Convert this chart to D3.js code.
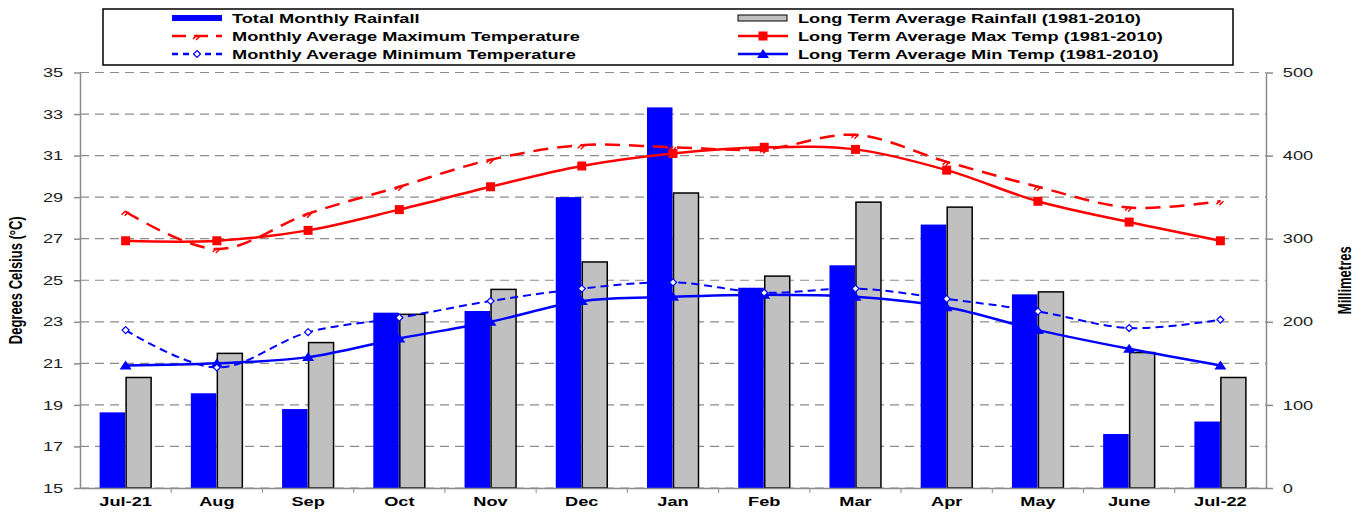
<!DOCTYPE html>
<html>
<head>
<meta charset="utf-8">
<script src="https://cdn.jsdelivr.net/npm/d3@7"></script>
<style>
  body { margin: 0; background: #fff; }
  text { font-family: "Liberation Sans", Arial, sans-serif; }
  .axTitle { font-family: "Liberation Sans Narrow", "Arial Narrow", "Liberation Sans", sans-serif; font-weight: bold; font-size: 13px; }
</style>
</head>
<body>
<script>
// months along the x axis
var months = ["Jul-21", "Aug", "Sep", "Oct", "Nov", "Dec", "Jan", "Feb", "Mar", "Apr", "May", "June", "Jul-22"]

// rainfall in mm (right axis)
var totalRain = [91, 114, 95, 211, 213, 350, 458, 241, 268, 317, 233, 65, 80]
var ltaRain = [133, 162, 175, 209, 239, 272, 355, 255, 344, 338, 236, 163, 133]

// temperatures in degrees C (left axis)
var maxTemp = [28.3, 26.5, 28.2, 29.5, 30.8, 31.5, 31.4, 31.3, 32.0, 30.7, 29.5, 28.5, 28.8]
var ltaMax = [26.9, 26.9, 27.4, 28.4, 29.5, 30.5, 31.1, 31.4, 31.3, 30.3, 28.8, 27.8, 26.9]
var minTemp = [22.6, 20.8, 22.5, 23.2, 24.0, 24.6, 24.9, 24.4, 24.6, 24.1, 23.5, 22.7, 23.1]
var ltaMin = [20.9, 21.0, 21.3, 22.2, 23.0, 24.0, 24.2, 24.3, 24.2, 23.7, 22.6, 21.7, 20.9]

var tempTicks = d3.range(15, 36, 2)
var rainTicks = [0, 100, 200, 300, 400, 500]

var width = 1364, height = 512
var plot = {left: 80, right: 1266, top: 72.5, bottom: 488}
// the original text is drawn wide, stretch it sideways
var stretch = 1.4

var svg = d3.select("body").append("svg")
    .attr("width", width)
    .attr("height", height)

// scales
var xScale = d3.scaleBand().domain(months).range([plot.left, plot.right])
var yTemp = d3.scaleLinear().domain([15, 35]).range([plot.bottom, plot.top])
var yRain = d3.scaleLinear().domain([0, 500]).range([plot.bottom, plot.top])

var groupW = xScale.bandwidth() * 0.57
var xSub = d3.scaleBand().domain(["total", "lta"]).range([0, groupW])
function cx(m) { return xScale(m) + xScale.bandwidth() / 2 }

// dashed grid
svg.append("g")
  .selectAll("line")
  .data(tempTicks)
  .enter().append("line")
    .attr("x1", plot.left).attr("x2", plot.right)
    .attr("y1", function(d) { return yTemp(d) }).attr("y2", function(d) { return yTemp(d) })
    .style("stroke", "#8c8c8c")
    .style("stroke-width", 1.2)
    .style("stroke-dasharray", "9,6")

// bars
var gx = (xScale.bandwidth() - groupW) / 2 - 0.5
svg.append("g").selectAll("rect")
  .data(months)
  .enter().append("rect")
    .attr("x", function(d) { return xScale(d) + gx + xSub("total") + 0.5 })
    .attr("y", function(d, i) { return yRain(totalRain[i]) })
    .attr("width", xSub.bandwidth() - 0.5)
    .attr("height", function(d, i) { return plot.bottom - yRain(totalRain[i]) })
    .style("fill", "#0000ff")

svg.append("g").selectAll("rect")
  .data(months)
  .enter().append("rect")
    .attr("x", function(d) { return xScale(d) + gx + xSub("lta") + 1 })
    .attr("y", function(d, i) { return yRain(ltaRain[i]) })
    .attr("width", xSub.bandwidth() - 1)
    .attr("height", function(d, i) { return plot.bottom - yRain(ltaRain[i]) })
    .style("fill", "#c0c0c0")
    .style("stroke", "#000")
    .style("stroke-width", 1.5)

// axes
var xAxis = svg.append("g")
    .attr("transform", "translate(0," + plot.bottom + ")")
    .call(d3.axisBottom(xScale).tickSize(0).tickPadding(9))
xAxis.selectAll("text")
    .attr("transform", "scale(" + stretch + ",1)")
    .style("font-size", "13px").style("font-weight", "bold").style("fill", "#000")
xAxis.select(".domain").style("stroke", "#8c8c8c").style("stroke-width", 1.5)
xAxis.selectAll(".sep")
  .data(months.slice(1))
  .enter().append("line")
    .attr("class", "sep")
    .attr("x1", function(d) { return xScale(d) }).attr("x2", function(d) { return xScale(d) })
    .attr("y1", 0).attr("y2", 5)
    .style("stroke", "#8c8c8c")

var leftAxis = svg.append("g")
    .attr("transform", "translate(" + plot.left + ",0)")
    .call(d3.axisLeft(yTemp).tickValues(tempTicks).tickSize(6).tickPadding(6).tickSizeOuter(0))
leftAxis.selectAll("text")
    .attr("transform", "scale(" + stretch + ",1)")
    .style("font-size", "13px").style("fill", "#222")
leftAxis.selectAll("line, .domain").style("stroke", "#8c8c8c").style("stroke-width", 1.5)

var rightAxis = svg.append("g")
    .attr("transform", "translate(" + plot.right + ",0)")
    .call(d3.axisRight(yRain).tickValues(rainTicks).tickSize(7).tickPadding(5).tickSizeOuter(0))
rightAxis.selectAll("text")
    .attr("transform", "scale(" + stretch + ",1)")
    .style("font-size", "13px").style("fill", "#222")
rightAxis.selectAll("line, .domain").style("stroke", "#8c8c8c").style("stroke-width", 1.5)

// axis titles
svg.append("text")
    .attr("class", "axTitle")
    .attr("text-anchor", "middle")
    .attr("transform", "translate(22," + ((plot.top + plot.bottom) / 2) + ")rotate(-90)scale(1," + stretch + ")")
    .text("Degrees Celsius  (\u00b0C)")

svg.append("text")
    .attr("class", "axTitle")
    .attr("text-anchor", "middle")
    .attr("transform", "translate(1351," + ((plot.top + plot.bottom) / 2) + ")rotate(-90)scale(1," + stretch + ")")
    .text("Millimetres")

// lines
var line = d3.line()
    .x(function(d, i) { return cx(months[i]) })
    .y(function(d) { return yTemp(d) })
    .curve(d3.curveCatmullRom.alpha(0.5))

var series = [
  {values: ltaMax, color: "#ff0000", dash: null, width: 2.5, marker: "square"},
  {values: ltaMin, color: "#0000ff", dash: null, width: 2.5, marker: "triangle"},
  {values: maxTemp, color: "#ff0000", dash: "15,9", width: 2.5, marker: "dmax"},
  {values: minTemp, color: "#0000ff", dash: "8,5", width: 2, marker: "dmin"}
]

function drawMarker(g, type, color) {
  if (type == "square") {
    g.append("rect").attr("x", -4.5).attr("y", -4.5).attr("width", 9).attr("height", 9).style("fill", color)
  } else if (type == "triangle") {
    g.append("path").attr("d", "M0,-5L6,4L-6,4Z").style("fill", color)
  } else if (type == "dmin") {
    g.append("path").attr("d", "M0,-3.5L3.5,0L0,3.5L-3.5,0Z").style("fill", "#fff").style("stroke", color).style("stroke-width", 1.2)
  } else {
    g.append("path").attr("d", "M-4,3L0,-1M-1,4L3,0").style("fill", "none").style("stroke", color).style("stroke-width", 1.5)
  }
}

series.forEach(function(s) {
  svg.append("path")
    .datum(s.values)
    .attr("d", line)
    .style("fill", "none")
    .style("stroke", s.color)
    .style("stroke-width", s.width)
    .style("stroke-dasharray", s.dash)

  s.values.forEach(function(v, i) {
    var g = svg.append("g").attr("transform", "translate(" + cx(months[i]) + "," + yTemp(v) + ")")
    drawMarker(g, s.marker, s.color)
  })
})

// legend
var legend = svg.append("g")
legend.append("rect")
    .attr("x", 103).attr("y", 9).attr("width", 1130).attr("height", 56)
    .style("fill", "#fff").style("stroke", "#000").style("stroke-width", 1.5)

var legendItems = [
  {label: "Total Monthly Rainfall", x: 172, y: 18, kind: "bar", color: "#0000ff"},
  {label: "Monthly Average Maximum Temperature", x: 172, y: 36, kind: "line", color: "#ff0000", dash: "14,8", marker: "dmax"},
  {label: "Monthly Average Minimum Temperature", x: 172, y: 54, kind: "line", color: "#0000ff", dash: "6,5", marker: "dmin"},
  {label: "Long Term Average Rainfall (1981-2010)", x: 738, y: 18, kind: "gbar", color: "#c0c0c0"},
  {label: "Long Term Average Max Temp (1981-2010)", x: 738, y: 36, kind: "line", color: "#ff0000", dash: null, marker: "square"},
  {label: "Long Term Average Min Temp (1981-2010)", x: 738, y: 54, kind: "line", color: "#0000ff", dash: null, marker: "triangle"}
]

legendItems.forEach(function(d) {
  var g = legend.append("g").attr("transform", "translate(" + d.x + "," + d.y + ")")
  if (d.kind == "bar") {
    g.append("rect").attr("x", 0).attr("y", -3).attr("width", 50).attr("height", 6).style("fill", d.color)
  } else if (d.kind == "gbar") {
    g.append("rect").attr("x", 0).attr("y", -3).attr("width", 49).attr("height", 6)
      .style("fill", d.color).style("stroke", "#000").style("stroke-width", 1)
  } else {
    g.append("line").attr("x1", 0).attr("x2", 50).attr("y1", 0).attr("y2", 0)
      .style("stroke", d.color).style("stroke-width", 2.5).style("stroke-dasharray", d.dash)
    var m = g.append("g").attr("transform", "translate(25,0)")
    drawMarker(m, d.marker, d.color)
  }
  g.append("text")
      .attr("transform", "translate(60,0)scale(" + stretch + ",1)")
      .attr("dy", "0.35em")
      .style("font-size", "13px").style("font-weight", "bold")
      .text(d.label)
})
</script>
</body>
</html>
